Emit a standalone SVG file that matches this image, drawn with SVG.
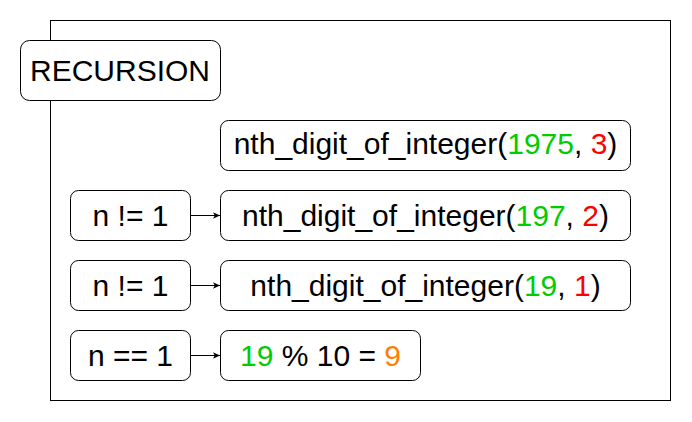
<svg xmlns="http://www.w3.org/2000/svg" width="692" height="422" viewBox="0 0 692 422">
<defs>
<style>
.box{fill:#fff;stroke:#000;stroke-width:1}
.t{font-family:"Liberation Sans",Arial,sans-serif;font-size:30px;fill:#000;text-anchor:middle}
.g{fill:#00CC00}.r{fill:#FF0000}.o{fill:#FF8000}
.c{stroke:#000;stroke-width:1;fill:none}
</style>
<marker id="ah" markerWidth="8" markerHeight="8" refX="7" refY="4" orient="auto" markerUnits="userSpaceOnUse">
<path d="M0,0.8 L7,4 L0,7.2 L1.8,4 Z" fill="#000"/>
</marker>
</defs>
<rect width="692" height="422" fill="#fff"/>
<g id="frame"><rect x="50.5" y="20.5" width="620" height="380" fill="none" stroke="#000"/></g>
<g id="recursion"><rect class="box" x="20.5" y="40.5" width="200" height="60" rx="9"/><text class="t" x="120" y="81">RECURSION</text></g>
<g id="call1"><rect class="box" x="220.5" y="120.5" width="410" height="50" rx="8"/><text class="t" x="425.5" y="154">nth_digit_of_integer(<tspan class="g">1975</tspan>, <tspan class="r">3</tspan>)</text></g>
<g id="cond1"><rect class="box" x="70.5" y="190.5" width="120" height="50" rx="8"/><text class="t" x="130.5" y="226">n != 1</text></g>
<g id="call2"><rect class="box" x="220.5" y="190.5" width="410" height="50" rx="8"/><text class="t" x="425.5" y="226">nth_digit_of_integer(<tspan class="g">197</tspan>, <tspan class="r">2</tspan>)</text></g>
<g id="cond2"><rect class="box" x="70.5" y="260.5" width="120" height="50" rx="8"/><text class="t" x="130.5" y="296">n != 1</text></g>
<g id="call3"><rect class="box" x="220.5" y="260.5" width="410" height="50" rx="8"/><text class="t" x="425.5" y="296">nth_digit_of_integer(<tspan class="g">19</tspan>, <tspan class="r">1</tspan>)</text></g>
<g id="cond3"><rect class="box" x="70.5" y="330.5" width="120" height="50" rx="8"/><text class="t" x="130.5" y="366">n == 1</text></g>
<g id="result"><rect class="box" x="220.5" y="330.5" width="200" height="50" rx="8"/><text class="t" x="320.5" y="366"><tspan class="g">19</tspan> % 10 = <tspan class="o">9</tspan></text></g>
<g id="connectors">
<line class="c" x1="190.5" y1="215.5" x2="220" y2="215.5" marker-end="url(#ah)"/>
<line class="c" x1="190.5" y1="285.5" x2="220" y2="285.5" marker-end="url(#ah)"/>
<line class="c" x1="190.5" y1="355.5" x2="220" y2="355.5" marker-end="url(#ah)"/>
</g>
</svg>
